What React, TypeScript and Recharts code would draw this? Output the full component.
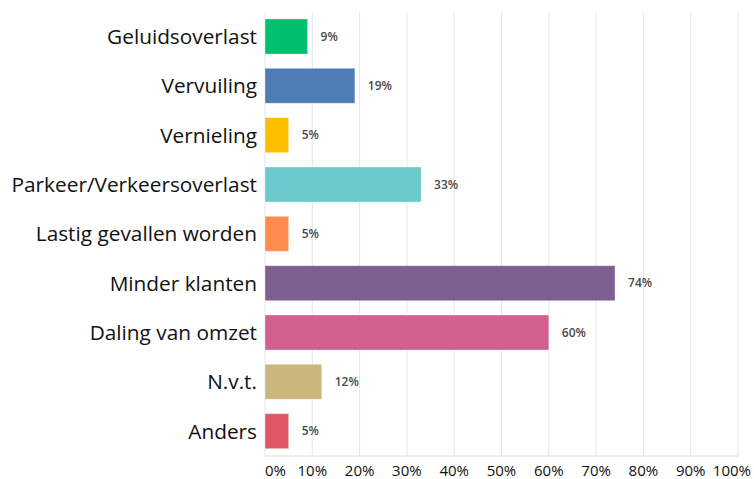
import React from "react";
import { BarChart, Bar, XAxis, YAxis, CartesianGrid, Cell, LabelList } from "recharts";

const categories = [
  "Geluidsoverlast",
  "Vervuiling",
  "Vernieling",
  "Parkeer/Verkeersoverlast",
  "Lastig gevallen worden",
  "Minder klanten",
  "Daling van omzet",
  "N.v.t.",
  "Anders",
];
const percentages = [9, 19, 5, 33, 5, 74, 60, 12, 5];
const barColors = [
  "#00bf6f",
  "#507cb6",
  "#f9be00",
  "#6bc8cd",
  "#ff8b4f",
  "#7f5f90",
  "#d25f90",
  "#c9b77d",
  "#e05666",
];
const xTicks = [0, 10, 20, 30, 40, 50, 60, 70, 80, 90, 100];

const data = categories.map((name, i) => ({ name, value: percentages[i] }));

// first and last tick labels are kept inside the chart, like the original
function XTick(props: any) {
  const { x, y, payload } = props;
  let anchor = "middle";
  let tx = x;
  if (payload.value === 0) {
    anchor = "start";
  } else if (payload.value === 100) {
    anchor = "end";
    tx = x + 13;
  }
  return (
    <text
      x={tx}
      y={y}
      dy="0.71em"
      textAnchor={anchor}
      fill="#111"
      fontSize={15}
      fontFamily="Open Sans"
    >
      {`${payload.value}%`}
    </text>
  );
}

export default function App() {
  return (
    <div style={{ position: "absolute", left: 0, top: 0, background: "#fff" }}>
      <BarChart
        width={754}
        height={479}
        data={data}
        layout="vertical"
        margin={{ top: 12, right: 16, left: 0, bottom: 2 }}
        barSize={35}
      >
        <CartesianGrid horizontal={false} stroke="#e6e6e6" />
        <XAxis
          type="number"
          domain={[0, 100]}
          ticks={xTicks}
          tickLine={false}
          axisLine={{ stroke: "#dcdcdc" }}
          tickMargin={3}
          height={21}
          interval={0}
          tick={<XTick />}
        />
        <YAxis
          type="category"
          dataKey="name"
          width={265}
          tickLine={false}
          axisLine={false}
          interval={0}
          tick={{ fill: "#111", fontSize: 20.8, fontFamily: "Open Sans" }}
        />
        <Bar dataKey="value" isAnimationActive={false}>
          {data.map((_, i) => (
            <Cell key={i} fill={barColors[i]} stroke="rgba(255,255,255,0.35)" />
          ))}
          <LabelList
            dataKey="value"
            position="right"
            offset={13}
            formatter={(v: number) => `${v}%`}
            style={{ fill: "#4a4a4a", fontSize: 12, fontWeight: 600, fontFamily: "Open Sans" }}
          />
        </Bar>
      </BarChart>
    </div>
  );
}
